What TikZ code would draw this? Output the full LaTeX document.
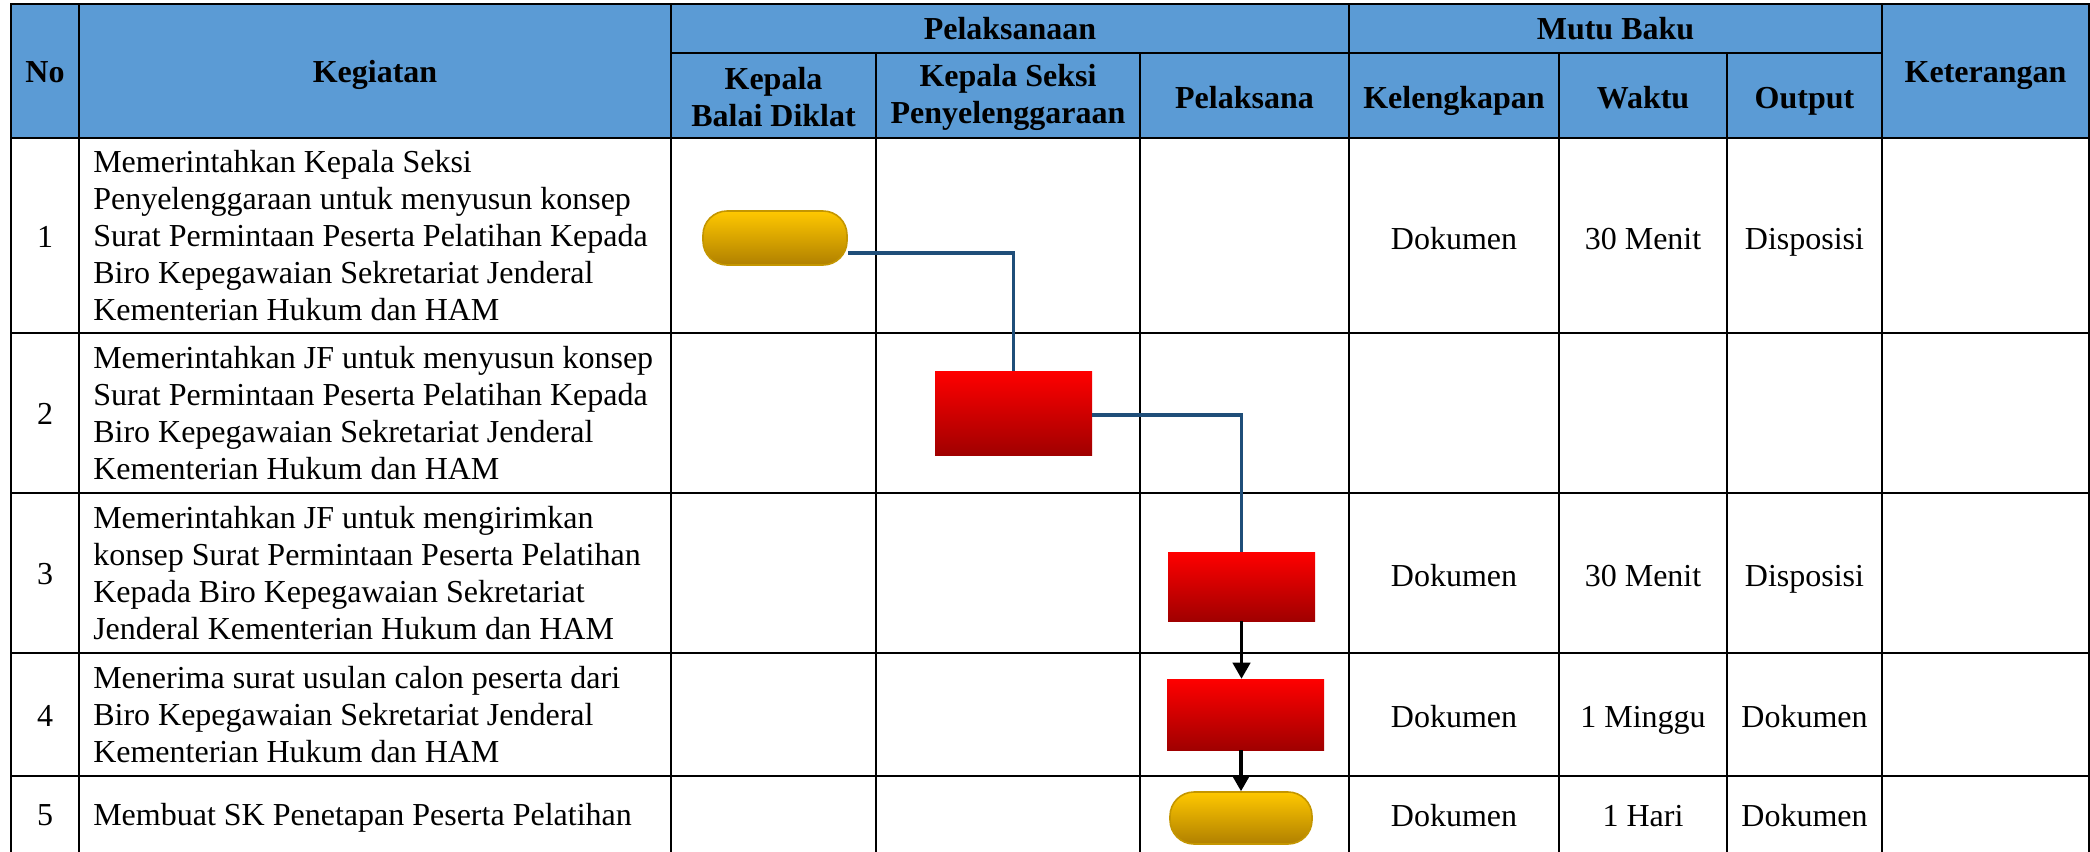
\documentclass[tikz,border=0pt]{standalone}
\usepackage{fontspec}
\setmainfont{Liberation Serif}
\usetikzlibrary{arrows.meta}
\definecolor{hdr}{RGB}{91,155,213}
\definecolor{connblue}{RGB}{31,78,121}
\definecolor{goldtop}{RGB}{255,200,0}
\definecolor{goldbot}{RGB}{176,128,0}
\definecolor{goldline}{RGB}{196,150,0}
\definecolor{redtop}{RGB}{255,0,0}
\definecolor{redbot}{RGB}{160,0,0}
\tikzset{
  gridline/.style={line width=1.9pt,black,line cap=rect},
  txt/.style={font=\fontsize{24}{27.75}\selectfont,inner sep=0pt},
  btxt/.style={txt,anchor=base},
  hd/.style={font=\fontsize{24}{27.75}\selectfont\bfseries,inner sep=0pt,align=center},
  bhd/.style={hd,anchor=base},
  keg/.style={txt,anchor=west,align=left},
  term/.style={rounded corners=18pt,top color=goldtop,bottom color=goldbot,draw=goldline,line width=1.2pt,inner sep=0pt},
  proc/.style={top color=redtop,bottom color=redbot,inner sep=0pt},
  conn/.style={draw=connblue,line width=2.5pt,line join=miter},
  arr/.style={draw=black,line width=2.4pt,-{Triangle[length=12pt,width=13pt]}}
}
\begin{document}
\begin{tikzpicture}[x=0.75pt,y=-0.75pt]
\useasboundingbox (0,0) rectangle (2090,851);
\fill[hdr] (11,4) rectangle (2089,138);
% horizontal lines
\draw[gridline] (11,4) -- (2089,4);
\draw[gridline] (671,53) -- (1882,53);
\draw[gridline] (11,138) -- (2089,138);
\foreach \y in {333,493,653,776} \draw[gridline] (11,\y) -- (2089,\y);
% vertical lines
\foreach \x in {11,79,671,1349,1882,2089} \draw[gridline] (\x,4) -- (\x,851);
\foreach \x in {876,1140,1559,1727} \draw[gridline] (\x,53) -- (\x,851);

% header texts
\node[bhd] (hNo) at (45,82) {No};
\node[bhd] (hKeg) at (375,82) {Kegiatan};
\node[bhd] (hPel) at (1010,39.5) {Pelaksanaan};
\node[bhd] (hMutu) at (1615.5,39.5) {Mutu Baku};
\node[bhd] (hKet) at (1985.5,82) {Keterangan};
\node[hd] (hKBD) at (773.5,97) {Kepala\\Balai Diklat};
\node[hd] (hKSP) at (1008,97) {Kepala Seksi\\Penyelenggaraan};
\node[bhd] (hPla) at (1244.5,108) {Pelaksana};
\node[bhd] (hKel) at (1454,108) {Kelengkapan};
\node[bhd] (hWak) at (1643,108) {Waktu};
\node[bhd] (hOut) at (1804.5,108) {Output};

% numbers
\node[btxt] (n1) at (45,247) {1};
\node[btxt] (n2) at (45,424) {2};
\node[btxt] (n3) at (45,584) {3};
\node[btxt] (n4) at (45,726) {4};
\node[btxt] (n5) at (45,825) {5};

% kegiatan
\node[keg] (k1) at (93,235.5) {Memerintahkan Kepala Seksi\\Penyelenggaraan untuk menyusun konsep\\Surat Permintaan Peserta Pelatihan Kepada\\Biro Kepegawaian Sekretariat Jenderal\\Kementerian Hukum dan HAM};
\node[keg] (k2) at (93,413) {Memerintahkan JF untuk menyusun konsep\\Surat Permintaan Peserta Pelatihan Kepada\\Biro Kepegawaian Sekretariat Jenderal\\Kementerian Hukum dan HAM};
\node[keg] (k3) at (93,573) {Memerintahkan JF untuk mengirimkan\\konsep Surat Permintaan Peserta Pelatihan\\Kepada Biro Kepegawaian Sekretariat\\Jenderal Kementerian Hukum dan HAM};
\node[keg] (k4) at (93,714.5) {Menerima surat usulan calon peserta dari\\Biro Kepegawaian Sekretariat Jenderal\\Kementerian Hukum dan HAM};
\node[btxt,anchor=base west] (k5) at (93,825) {Membuat SK Penetapan Peserta Pelatihan};

% mutu baku
\node[btxt] (kl1) at (1454,249) {Dokumen};
\node[btxt] (w1) at (1643,249) {30 Menit};
\node[btxt] (o1) at (1804.5,249) {Disposisi};
\node[btxt] (kl3) at (1454,586) {Dokumen};
\node[btxt] (w3) at (1643,586) {30 Menit};
\node[btxt] (o3) at (1804.5,586) {Disposisi};
\node[btxt] (kl4) at (1454,727) {Dokumen};
\node[btxt] (w4) at (1643,727) {1 Minggu};
\node[btxt] (o4) at (1804.5,727) {Dokumen};
\node[btxt] (kl5) at (1454,826) {Dokumen};
\node[btxt] (w5) at (1643,826) {1 Hari};
\node[btxt] (o5) at (1804.5,826) {Dokumen};

% flow shapes
\node[term,minimum width=108pt,minimum height=40.5pt] (t1) at (775,238) {};
\node[proc,minimum width=117.75pt,minimum height=63pt] (r2) at (1013.5,413) {};
\node[proc,minimum width=110.25pt,minimum height=51.75pt] (r3) at (1241.5,586.5) {};
\node[proc,minimum width=117.75pt,minimum height=53.25pt] (r4) at (1245.5,714.5) {};
\node[term,minimum width=106.5pt,minimum height=39pt] (t5) at (1241,818) {};

% connectors
\draw[conn] ([yshift=-11.25pt]t1.east) -| (r2.north);
\draw[conn] ([yshift=-1.5pt]r2.east) -| (r3.north);
\draw[arr] (r3.south) -- (r3.south |- r4.north);
\draw[arr] (r4.south -| t5.north) -- (t5.north);
\end{tikzpicture}
\end{document}
